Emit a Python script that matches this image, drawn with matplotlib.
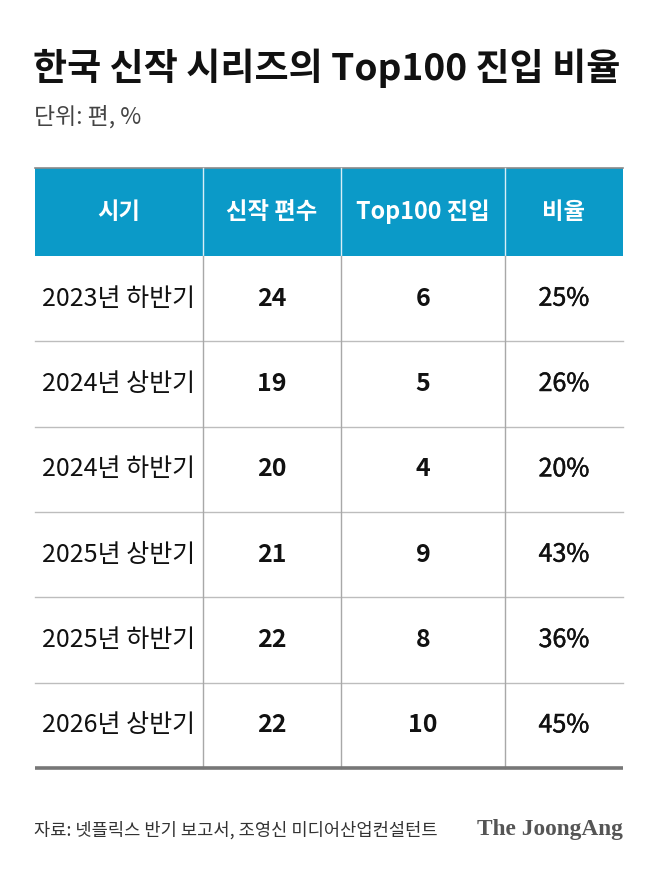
import matplotlib
matplotlib.use("Agg")
import matplotlib.pyplot as plt
import matplotlib.patheffects as pe

plt.rcParams['font.family'] = ['Noto Sans CJK KR', 'DejaVu Sans']

title = "한국 신작 시리즈의 Top100 진입 비율"
subtitle = "단위: 편, %"
headers = ["시기", "신작 편수", "Top100 진입", "비율"]
periods = ["2023년 하반기", "2024년 상반기", "2024년 하반기",
           "2025년 상반기", "2025년 하반기", "2026년 상반기"]
new_series = [24, 19, 20, 21, 22, 22]
top100 = [6, 5, 4, 9, 8, 10]
ratio = [25, 26, 20, 43, 36, 45]
source = "자료: 넷플릭스 반기 보고서, 조영신 미디어산업컨설턴트"
brand = "The JoongAng"

W, H = 658, 881
fig = plt.figure(figsize=(W / 100, H / 100), dpi=100)
ax = fig.add_axes([0, 0, 1, 1])
ax.set_xlim(0, W)
ax.set_ylim(H, 0)
ax.axis('off')

left, right = 35, 623
col_edges = [left, 203, 341, 505, right]
head_top, head_bot = 168, 256
table_bot = 768
n = len(periods)
row_h = (table_bot - head_bot) / n
blue = '#0B9AC8'

# title & subtitle
ax.text(left - 2, 68, title, fontsize=26.7, fontweight='bold', color='#111111',
        ha='left', va='center')
ax.text(left - 1, 117, subtitle, fontsize=16.5, color='#444444',
        ha='left', va='center')

# header band
ax.add_patch(plt.Rectangle((left, head_top), right - left, head_bot - head_top,
                           facecolor=blue, edgecolor='none'))
ax.plot([left, right], [head_top, head_top], color='#8a8a8a', lw=1.2)
for x in col_edges[1:-1]:
    ax.plot([x, x], [head_top, head_bot], color='#d8eef6', lw=1.0)
for j, h in enumerate(headers):
    cx = (col_edges[j] + col_edges[j + 1]) / 2
    ax.text(cx, (head_top + head_bot) / 2, h, fontsize=16.8, fontweight='bold',
            color='white', ha='center', va='center')

# body
medium = [pe.withStroke(linewidth=0.35, foreground='#111111')]
for i in range(n):
    y0 = head_bot + i * row_h
    cy = y0 + row_h / 2
    if i > 0:
        ax.plot([left, right], [y0, y0], color='#bdbdbd', lw=1.0)
    vals = [periods[i], str(new_series[i]), str(top100[i]), f"{ratio[i]}%"]
    weights = ['normal', 'bold', 'bold', 'normal']
    for j, v in enumerate(vals):
        cx = (col_edges[j] + col_edges[j + 1]) / 2
        t = ax.text(cx, cy, v, fontsize=18, fontweight=weights[j], color='#111111',
                    ha='center', va='center')
        if j == 3:
            t.set_path_effects(medium)
for x in col_edges[1:-1]:
    ax.plot([x, x], [head_bot, table_bot], color='#a8a8a8', lw=1.0)
ax.plot([left, right], [table_bot, table_bot], color='#777777', lw=2.6,
        solid_capstyle='butt')

# footer
ax.text(left - 1, 830, source, fontsize=12.7, color='#333333',
        ha='left', va='center')
ax.text(right, 830, brand, fontsize=16.8, fontweight='bold', color='#555555',
        family=['Liberation Serif', 'DejaVu Serif'], ha='right', va='center')

fig.savefig('out.png', dpi=100, facecolor='white')
